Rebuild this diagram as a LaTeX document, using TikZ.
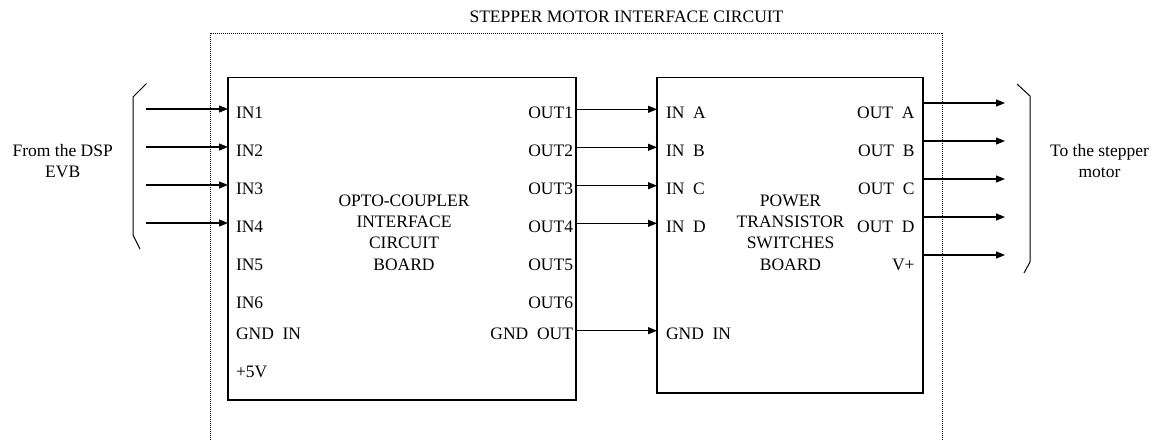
\documentclass[tikz,border=0pt]{standalone}
\usepackage{fontspec}
\setmainfont{Liberation Serif}
\usetikzlibrary{arrows.meta}
\begin{document}
\begin{tikzpicture}[x=1pt,y=-1pt,
  every node/.style={font=\fontsize{17.5}{21.1}\selectfont, inner sep=0pt, outer sep=0pt},
  board/.style={draw=black, line width=1.3pt, inner sep=0pt},
  arr/.style={line width=1.2pt, -{Triangle[length=9pt,width=7pt]}},
  frameline/.style={line width=0.8pt, dash pattern=on 1pt off 1pt},
  brace/.style={line width=1pt},
  lbl/.style={anchor=base west},
  rlbl/.style={anchor=base east},
  ctr/.style={anchor=base}
]
\useasboundingbox (0,0) rectangle (1156,440);

% title and dotted frame
\node[ctr] (title) at (626.5,22.7) {STEPPER MOTOR INTERFACE CIRCUIT};
\draw[frameline] (210,440) -- (210,33.3) -- (942,33.3) -- (942,440);

% boards
\node[board, minimum width=348pt, minimum height=322.5pt] (b1) at (402,238.75) {};
\node[board, minimum width=266pt, minimum height=315.5pt] (b2) at (790,235.25) {};

\node[ctr] (t1) at (404,206.7) {\begin{tabular}[t]{@{}c@{}}OPTO-COUPLER\\INTERFACE\\CIRCUIT\\BOARD\end{tabular}};
\node[ctr] (t2) at (790.5,206.7) {\begin{tabular}[t]{@{}c@{}}POWER\\TRANSISTOR\\SWITCHES\\BOARD\end{tabular}};

% board 1 labels
\node[lbl] (in1) at (236,118) {IN1};
\node[lbl] (in2) at (236,156) {IN2};
\node[lbl] (in3) at (236,194) {IN3};
\node[lbl] (in4) at (236,232.4) {IN4};
\node[lbl] (in5) at (236,270.7) {IN5};
\node[lbl] (in6) at (236,308) {IN6};
\node[lbl] (gi1) at (236,339.3) {GND\ \ IN};
\node[lbl] (p5) at (236,377.7) {+5V};

\node[rlbl] (out1) at (573,118) {OUT1};
\node[rlbl] (out2) at (573,156) {OUT2};
\node[rlbl] (out3) at (573,194) {OUT3};
\node[rlbl] (out4) at (573,232.4) {OUT4};
\node[rlbl] (out5) at (573,270.7) {OUT5};
\node[rlbl] (out6) at (573,308) {OUT6};
\node[rlbl] (go1) at (573,339.3) {GND\ \ OUT};

% board 2 labels
\node[lbl] (ina) at (666,118) {IN\ \ A};
\node[lbl] (inb) at (666,156) {IN\ \ B};
\node[lbl] (inc) at (666,194) {IN\ \ C};
\node[lbl] (ind) at (666,232.4) {IN\ \ D};
\node[lbl] (gi2) at (666,339.3) {GND\ \ IN};

\node[rlbl] (outa) at (914.5,118) {OUT\ \ A};
\node[rlbl] (outb) at (914.5,156) {OUT\ \ B};
\node[rlbl] (outc) at (914.5,194) {OUT\ \ C};
\node[rlbl] (outd) at (914.5,232.4) {OUT\ \ D};
\node[rlbl] (vp) at (914.5,270.5) {V+};

% side texts
\node[ctr] (dsp) at (62.7,156.7) {\begin{tabular}[t]{@{}c@{}}From the DSP\\EVB\end{tabular}};
\node[ctr] (mot) at (1099.5,156.7) {\begin{tabular}[t]{@{}c@{}}To the stepper\\motor\end{tabular}};

% brackets
\draw[brace] (146.5,83.5) -- (133,97) -- (133,235) -- (140,249);
\draw[brace] (1017,84) -- (1030,96) -- (1030,262) -- (1024,273);

% input arrows
\foreach \y [count=\i] in {109,147,185,223} {
  \coordinate (s\i) at (146,\y);
  \draw[arr] (s\i) -- (s\i -| b1.west);
}
% board to board arrows
\foreach \y [count=\i] in {109.3,147.3,185.7,223.3,330.7} {
  \coordinate (m\i) at (b1.east |- 0,\y);
  \draw[arr] (m\i) -- (m\i -| b2.west);
}
% output arrows
\foreach \y [count=\i] in {103,141,179,217,255} {
  \coordinate (e\i) at (1005,\y);
  \draw[arr] (e\i -| b2.east) -- (e\i);
}
\end{tikzpicture}
\end{document}
